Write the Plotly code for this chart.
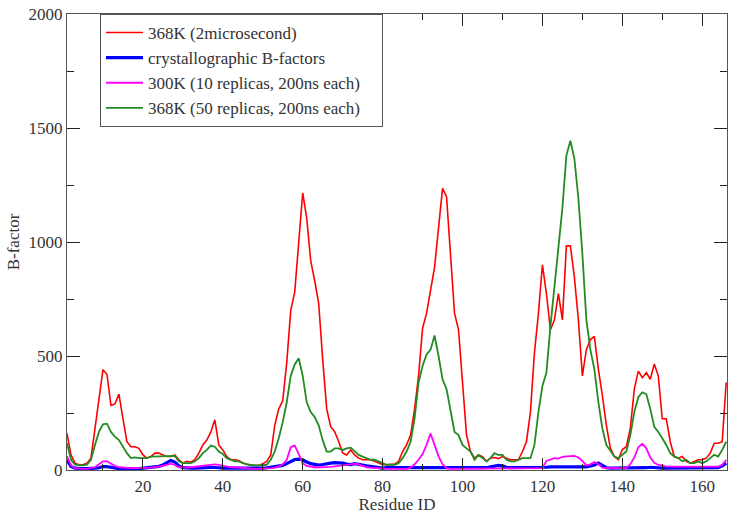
import plotly.graph_objects as go

residues = list(range(1, 167))

red_2us = [160, 66, 30, 23, 23, 30, 52, 183, 327, 440,
           420, 283, 290, 333, 225, 124, 102, 102, 95, 66,
           52, 59, 74, 74, 66, 59, 59, 66, 45, 30,
           38, 35, 45, 74, 110, 131, 167, 220, 110, 88,
           59, 45, 45, 42, 30, 25, 22, 20, 20, 28,
           38, 66, 196, 268, 304, 470, 700, 780, 1020, 1215,
           1105, 918, 830, 730, 485, 268, 190, 168, 125, 75,
           66, 88, 66, 52, 45, 45, 45, 38, 30, 23,
           23, 23, 26, 38, 81, 110, 153, 268, 413, 622,
           687, 788, 889, 1062, 1235, 1199, 947, 687, 615, 384,
           153, 81, 52, 66, 59, 38, 52, 55, 50, 59,
           52, 45, 45, 45, 81, 124, 254, 514, 687, 900,
           774, 615, 658, 774, 658, 983, 983, 846, 658, 413,
           528, 572, 586, 442, 327, 197, 96, 59, 45, 90,
           102, 183, 355, 434, 405, 427, 398, 465, 413, 225,
           225, 124, 59, 52, 59, 38, 30, 38, 45, 45,
           52, 74, 117, 117, 124, 384]

crystal = [45, 15, 8, 6, 6, 6, 6, 8, 10, 15,
           15, 12, 8, 6, 6, 5, 5, 5, 6, 8,
           10, 12, 14, 16, 22, 32, 42, 35, 18, 10,
           8, 8, 8, 8, 8, 10, 12, 12, 10, 8,
           8, 6, 6, 6, 6, 5, 5, 5, 6, 8,
           10, 12, 14, 16, 20, 28, 38, 46, 48, 45,
           35, 28, 25, 22, 24, 28, 30, 32, 32, 30,
           26, 24, 28, 26, 22, 18, 15, 12, 10, 8,
           10, 10, 9, 10, 11, 12, 10, 9, 10, 11,
           12, 10, 10, 9, 10, 10, 10, 10, 9, 10,
           10, 10, 10, 10, 10, 10, 14, 18, 20, 18,
           12, 10, 10, 10, 10, 10, 10, 10, 10, 10,
           12, 14, 14, 14, 14, 14, 12, 12, 14, 12,
           14, 18, 22, 30, 18, 10, 8, 8, 8, 8,
           8, 8, 8, 8, 8, 10, 12, 10, 8, 8,
           8, 8, 8, 8, 8, 8, 8, 8, 8, 8,
           8, 8, 8, 10, 18, 30]

k300 = [60, 20, 8, 5, 5, 5, 8, 12, 25, 38,
        38, 28, 18, 12, 10, 8, 8, 8, 8, 8,
        8, 10, 12, 15, 18, 22, 28, 22, 12, 10,
        10, 12, 14, 15, 18, 20, 22, 25, 22, 18,
        15, 12, 12, 10, 8, 8, 6, 5, 5, 5,
        6, 8, 10, 15, 25, 45, 100, 108, 70, 30,
        18, 14, 12, 12, 12, 12, 14, 16, 18, 18,
        20, 25, 28, 25, 18, 12, 10, 8, 6, 5,
        5, 5, 5, 5, 5, 5, 10, 25, 45, 70,
        110, 160, 110, 60, 25, 8, 5, 5, 5, 5,
        5, 5, 5, 5, 5, 5, 5, 5, 5, 5,
        5, 5, 5, 5, 5, 5, 5, 5, 5, 8,
        40, 45, 52, 50, 58, 60, 62, 62, 55, 40,
        20, 25, 35, 25, 10, 8, 8, 8, 8, 8,
        8, 25, 55, 100, 115, 95, 55, 32, 22, 20,
        15, 15, 15, 15, 15, 15, 15, 15, 15, 15,
        15, 15, 15, 15, 22, 45]

k368_50 = [117, 45, 23, 20, 20, 23, 45, 110, 167, 200,
           203, 167, 146, 131, 102, 74, 52, 55, 52, 52,
           52, 59, 59, 59, 59, 59, 59, 62, 38, 30,
           30, 30, 38, 52, 74, 88, 107, 102, 81, 70,
           52, 45, 38, 38, 30, 25, 22, 20, 20, 22,
           23, 45, 81, 139, 210, 297, 413, 463, 490, 413,
           297, 254, 232, 196, 131, 81, 81, 95, 95, 88,
           95, 98, 81, 66, 59, 52, 45, 45, 38, 30,
           23, 23, 23, 30, 52, 81, 124, 225, 384, 456,
           507, 528, 590, 500, 398, 355, 268, 167, 153, 110,
           95, 81, 45, 66, 52, 38, 52, 74, 66, 66,
           45, 38, 38, 45, 52, 52, 52, 110, 254, 369,
           427, 629, 803, 976, 1149, 1380, 1444, 1365, 1192, 947,
           658, 528, 442, 298, 182, 110, 85, 59, 52, 67,
           81, 153, 254, 319, 341, 333, 268, 189, 167, 139,
           110, 74, 59, 52, 38, 45, 30, 30, 38, 30,
           38, 52, 67, 59, 88, 124]

series_names = ["368K (2microsecond)", "crystallographic B-factors",
                "300K (10 replicas, 200ns each)", "368K (50 replicas, 200ns each)"]
series_values = [red_2us, crystal, k300, k368_50]
series_colors = ["#ff0000", "#0000ff", "#ff00ff", "#228b22"]
series_widths = [1.6, 3.2, 1.8, 1.8]

fig = go.Figure()
for i, (name, vals, color, w) in enumerate(zip(series_names, series_values,
                                               series_colors, series_widths)):
    label = name + ("\u00a0" * 4 if i == 3 else "")
    fig.add_trace(go.Scatter(x=residues, y=vals, mode="lines", name=label,
                             line=dict(color=color, width=w)))

serif = "Liberation Serif, Times New Roman, Times, serif"
axis_common = dict(
    showline=True, linecolor="#555555", linewidth=1.2, mirror="allticks",
    ticks="inside", tickcolor="#222222", showgrid=False, zeroline=False,
    tickfont=dict(family=serif, size=17, color="#333333"),
)

fig.update_xaxes(range=[1, 166.2], dtick=20, tick0=0, ticklen=12,
                 minor=dict(dtick=10, tick0=0, ticklen=6, ticks="inside", tickcolor="#222222"),
                 title=dict(text="Residue ID", font=dict(family=serif, size=17, color="#333333"), standoff=2),
                 **axis_common)
fig.update_yaxes(range=[0, 2000], dtick=500, tick0=0, ticklen=13,
                 minor=dict(dtick=250, tick0=0, ticklen=7, ticks="inside", tickcolor="#222222"),
                 title=dict(text="B-factor", font=dict(family=serif, size=17, color="#333333"), standoff=4),
                 **axis_common)

fig.update_layout(
    width=733, height=514,
    margin=dict(l=67, r=5, t=10, b=42),
    paper_bgcolor="white", plot_bgcolor="white",
    showlegend=True,
    legend=dict(x=0.05, y=1, xanchor="left", yanchor="top",
                bgcolor="white", bordercolor="#555555", borderwidth=1,
                font=dict(family=serif, size=17, color="#333333"),
                itemwidth=37),
)

fig.write_html("out.html", config={"displayModeBar": False},
               post_script="document.body.style.margin='0';")
